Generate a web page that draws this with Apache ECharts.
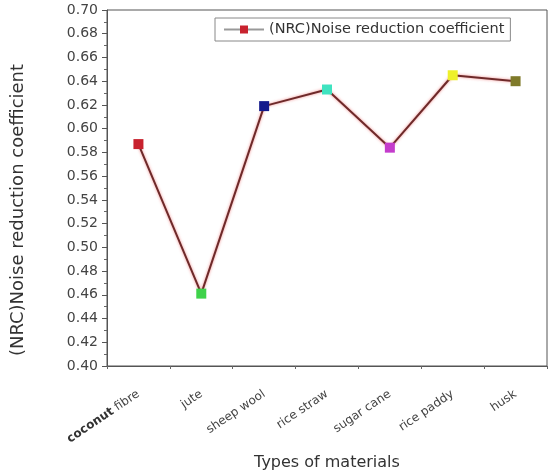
<!DOCTYPE html>
<html>
<head>
<meta charset="utf-8">
<script src="https://cdn.jsdelivr.net/npm/echarts@6/dist/echarts.min.js"></script>
<style>html,body{margin:0;padding:0;background:#fff;}#c{width:550px;height:475px;}</style>
</head>
<body>
<div id="c"></div>
<script>
var categories = ['coconut fibre', 'jute', 'sheep wool', 'rice straw', 'sugar cane', 'rice paddy', 'husk'];
var nrcValues = [0.587, 0.461, 0.619, 0.633, 0.584, 0.645, 0.640];
var pointColors = ['#c8222e', '#3ed24a', '#141a8c', '#3fe3c0', '#c43ccc', '#eef02a', '#7f7a2a'];
var yTicks = { min: 0.40, max: 0.70, interval: 0.02 };
var seriesName = '(NRC)Noise reduction coefficient';

var chart = echarts.init(document.getElementById('c'), null, { renderer: 'canvas' });
var font = '"DejaVu Sans", "Liberation Sans", Arial, sans-serif';
var dataItems = nrcValues.map(function (v, i) {
  return { value: v, itemStyle: { color: pointColors[i] } };
});
chart.setOption({
  backgroundColor: '#fff',
  animation: false,
  textStyle: { fontFamily: font },
  grid: { left: 107, top: 10, right: 3, bottom: 109, outerBoundsMode: 'none', containLabel: false, show: true, borderColor: '#555', borderWidth: 1, backgroundColor: 'transparent' },
  legend: {
    data: [seriesName],
    left: 215, top: 18,
    itemWidth: 40, itemHeight: 10,
    itemGap: 4,
    padding: [4, 6, 4, 8],
    borderColor: '#888', borderWidth: 1,
    lineStyle: { color: '#999' },
    textStyle: { fontSize: 14.5, color: '#333', fontFamily: font }
  },
  xAxis: [{
    type: 'category',
    data: categories,
    boundaryGap: true,
    name: 'Types of materials',
    nameLocation: 'middle',
    nameGap: 89,
    nameTextStyle: { fontSize: 16, color: '#333', fontFamily: font },
    axisLine: { lineStyle: { color: '#555' } },
    axisTick: { alignWithLabel: true, interval: 0, length: 5, lineStyle: { color: '#555' } },
    axisLabel: {
      rotate: 34, fontSize: 12, color: '#444', margin: 27, interval: 0,
      formatter: function (v) { return v === 'coconut fibre' ? '{b|coconut} fibre' : v; },
      rich: { b: { fontWeight: 'bold', fontSize: 12, color: '#333' } }
    },
    splitLine: { show: false }
  }, {
    type: 'category',
    data: categories,
    boundaryGap: true,
    position: 'bottom',
    axisLine: { show: false },
    axisTick: { show: true, interval: 0, length: 3, lineStyle: { color: '#666' } },
    axisLabel: { show: false },
    splitLine: { show: false }
  }],
  yAxis: {
    type: 'value',
    min: yTicks.min, max: yTicks.max, interval: yTicks.interval,
    name: '(NRC)Noise reduction coefficient',
    nameLocation: 'middle',
    nameGap: 80,
    nameTextStyle: { fontSize: 18, color: '#333', fontFamily: font, padding: [0, 44, 0, 0] },
    axisLine: { show: true, lineStyle: { color: '#555' } },
    axisTick: { show: true, length: 5, lineStyle: { color: '#555' } },
    minorTick: { show: true, splitNumber: 2, length: 3, lineStyle: { color: '#666' } },
    axisLabel: { fontSize: 14, color: '#444', margin: 9, formatter: function (v) { return v.toFixed(2); } },
    splitLine: { show: false }
  },
  series: [{
    name: seriesName,
    type: 'line',
    xAxisIndex: 0,
    data: dataItems,
    symbol: 'rect',
    symbolSize: 10,
    itemStyle: { color: '#c8222e' },
    lineStyle: { color: '#6e2a2a', width: 2, shadowColor: 'rgba(230,60,60,0.6)', shadowBlur: 3 }
  }]
});
</script>
</body>
</html>
